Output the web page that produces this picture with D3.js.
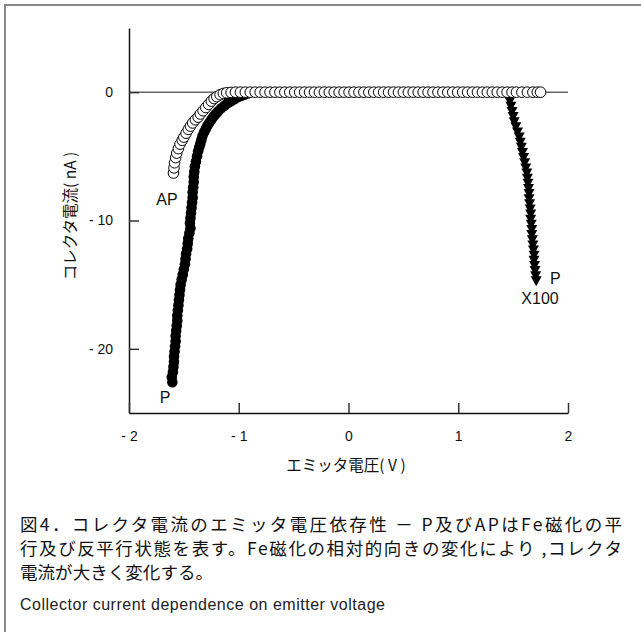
<!DOCTYPE html>
<html lang="ja">
<head>
<meta charset="UTF-8">
<title>コレクタ電流のエミッタ電圧依存性</title>
<script src="https://d3js.org/d3.v7.min.js"></script>
<style>
  body { margin: 0; background: white; }
  svg { display: block; }
  .tick text { font-family: "Liberation Sans", Arial, sans-serif; font-size: 14px; fill: #111; }
  .jp { font-family: "Noto Sans CJK JP", sans-serif; fill: #111; }
</style>
</head>
<body>
<svg id="chart" width="641" height="632"></svg>
<script>
  // AP (antiparallel) – open circles
  const apX = [-1.595, -1.59, -1.585, -1.575, -1.565, -1.55, -1.535, -1.515, -1.5, -1.48, -1.46, -1.44, -1.42, -1.395,
    -1.37, -1.35, -1.325, -1.3, -1.275, -1.25, -1.225, -1.2, -1.17, -1.14, -1.11,
    -1.07, -1.03, -0.985, -0.94, -0.895, -0.85, -0.805, -0.76, -0.715, -0.67, -0.625, -0.58, -0.535, -0.49,
    -0.445, -0.40, -0.355, -0.31, -0.265, -0.22, -0.175, -0.13, -0.085, -0.04, 0.005, 0.05, 0.095, 0.14,
    0.185, 0.23, 0.275, 0.32, 0.365, 0.41, 0.455, 0.50, 0.545, 0.59, 0.635, 0.68, 0.725, 0.77, 0.815,
    0.86, 0.905, 0.95, 0.995, 1.04, 1.085, 1.13, 1.175, 1.22, 1.265, 1.31, 1.355, 1.40, 1.445, 1.49,
    1.53, 1.58, 1.63, 1.68, 1.72, 1.75];
  const apY = [-6.3, -5.9, -5.5, -5.1, -4.75, -4.4, -4.05, -3.75, -3.5, -3.2, -2.9, -2.65, -2.4, -2.15,
    -1.95, -1.7, -1.45, -1.2, -0.95, -0.7, -0.5, -0.35, -0.2, -0.1, -0.05,
    -0.02, 0, 0, 0, 0, 0, 0, 0, 0, 0, 0, 0, 0, 0,
    0, 0, 0, 0, 0, 0, 0, 0, 0, 0, 0, 0, 0, 0,
    0, 0, 0, 0, 0, 0, 0, 0, 0, 0, 0, 0, 0, 0, 0,
    0, 0, 0, 0, 0, 0, 0, 0, 0, 0, 0, 0, 0, 0, 0,
    0, 0, 0, 0, 0, 0];

  // P (parallel) – filled circles
  const pX = [-1.605, -1.61, -1.6, -1.595, -1.59, -1.59, -1.585, -1.58, -1.575, -1.575, -1.57, -1.565, -1.56, -1.56,
    -1.555, -1.55, -1.545, -1.54, -1.535, -1.53, -1.52, -1.51, -1.5, -1.49, -1.485, -1.48, -1.47, -1.465,
    -1.46, -1.45, -1.44, -1.445, -1.44, -1.435, -1.43, -1.425, -1.42, -1.42, -1.415, -1.41, -1.41, -1.405,
    -1.4, -1.39, -1.38, -1.37, -1.36, -1.35, -1.34, -1.33, -1.315, -1.3, -1.285, -1.27, -1.25, -1.23,
    -1.21, -1.19, -1.16, -1.13, -1.1, -1.07, -1.04, -1.01, -0.98, -0.95, -0.92];
  const pY = [-22.6, -22.2, -21.8, -21.4, -21.0, -20.6, -20.2, -19.8, -19.4, -19.0, -18.6, -18.2, -17.8, -17.4,
    -17.0, -16.6, -16.2, -15.8, -15.4, -15.0, -14.6, -14.2, -13.8, -13.4, -13.0, -12.6, -12.2, -11.8,
    -11.4, -11.0, -10.6, -10.2, -9.8, -9.4, -9.0, -8.6, -8.2, -7.8, -7.4, -7.0, -6.6, -6.2,
    -5.8, -5.4, -5.0, -4.6, -4.3, -4.0, -3.7, -3.4, -3.1, -2.85, -2.6, -2.4, -2.15, -1.9,
    -1.7, -1.5, -1.25, -1.05, -0.85, -0.7, -0.55, -0.4, -0.3, -0.2, -0.1];

  // P x100 – filled down triangles
  const p100X = [1.465, 1.47, 1.48, 1.49, 1.5, 1.51, 1.525, 1.54, 1.555, 1.565, 1.575, 1.585, 1.595, 1.605,
    1.615, 1.625, 1.63, 1.635, 1.64, 1.645, 1.645, 1.65, 1.655, 1.66, 1.66, 1.665, 1.67, 1.67,
    1.675, 1.68, 1.685, 1.69, 1.69, 1.695, 1.7, 1.705, 1.71];
  const p100Y = [-0.3, -0.7, -1.1, -1.5, -1.9, -2.3, -2.7, -3.1, -3.5, -3.9, -4.3, -4.7, -5.1, -5.5,
    -5.9, -6.3, -6.7, -7.1, -7.5, -7.9, -8.3, -8.7, -9.1, -9.5, -9.9, -10.3, -10.7, -11.1,
    -11.5, -11.9, -12.3, -12.7, -13.1, -13.5, -13.9, -14.3, -14.7];

  const xTicks = [-2, -1, 0, 1, 2];
  const yTicks = [0, -10, -20];

  const captionLines = [
    "図4．コレクタ電流のエミッタ電圧依存性 － P及びAPはFe磁化の平",
    "行及び反平行状態を表す。Fe磁化の相対的向きの変化により ,コレクタ",
    "電流が大きく変化する。"
  ];
  const captionEn = "Collector current dependence on emitter voltage";

  const svg = d3.select("#chart");

  // outer frame (top and left edges visible)
  svg.append("rect")
    .attr("x", 5).attr("y", 5).attr("width", 700).attr("height", 700)
    .attr("fill", "white").attr("stroke", "#888").attr("stroke-width", 2);

  const x = d3.scaleLinear().domain([-2, 2]).range([129, 568]);
  const y = d3.scaleLinear().domain([-25, 5]).range([413, 28]);

  const fmt = d => d < 0 ? "- " + Math.abs(d) : String(d);

  // zero line
  svg.append("line")
    .attr("x1", x(-2)).attr("x2", x(2))
    .attr("y1", y(0)).attr("y2", y(0))
    .attr("stroke", "#666").attr("stroke-width", 1.5);

  const yAxis = svg.append("g")
    .attr("transform", `translate(${x(-2)},0)`)
    .call(d3.axisLeft(y).tickValues(yTicks).tickFormat(fmt).tickSizeInner(-10).tickSizeOuter(0).tickPadding(16));
  const xAxis = svg.append("g")
    .attr("transform", `translate(0,${y(-25)})`)
    .call(d3.axisBottom(x).tickValues(xTicks).tickFormat(fmt).tickSizeInner(-10).tickSizeOuter(0).tickPadding(18));
  [yAxis, xAxis].forEach(g => {
    g.select(".domain").attr("stroke", "#111").attr("stroke-width", 1.5);
    g.selectAll(".tick line").attr("stroke", "#333").attr("stroke-width", 1.5);
  });

  // P filled circles
  svg.append("g").selectAll("circle")
    .data(d3.zip(pX, pY))
    .join("circle")
    .attr("cx", d => x(d[0])).attr("cy", d => y(d[1]))
    .attr("r", 5.3).attr("fill", "#000");

  // P x100 triangles (pointing down)
  const tri = "M-5.5,-4.5L5.5,-4.5L0,5.5Z";
  svg.append("g").selectAll("path")
    .data(d3.zip(p100X, p100Y))
    .join("path")
    .attr("transform", d => `translate(${x(d[0])},${y(d[1])})`)
    .attr("d", tri).attr("fill", "#000");

  // AP open circles
  svg.append("g").selectAll("circle")
    .data(d3.zip(apX, apY))
    .join("circle")
    .attr("cx", d => x(d[0])).attr("cy", d => y(d[1]))
    .attr("r", 5.3).attr("fill", "white").attr("stroke", "#000").attr("stroke-width", 1);

  // series labels
  const lab = (t, lx, ly, anchor) => svg.append("text")
    .attr("x", lx).attr("y", ly).attr("text-anchor", anchor || "middle")
    .attr("font-family", "Liberation Sans, Arial, sans-serif").attr("font-size", 16)
    .attr("fill", "#111").text(t);
  lab("AP", 167, 205);
  lab("P", 165, 403);
  lab("P", 550, 284, "start");
  lab("X100", 540, 304);

  // axis titles
  svg.append("text").attr("class", "jp")
    .attr("transform", "translate(76,216) rotate(-90)")
    .attr("text-anchor", "middle").attr("font-size", 15.5)
    .text("コレクタ電流( nA )");
  svg.append("text").attr("class", "jp")
    .attr("x", 346).attr("y", 471)
    .attr("text-anchor", "middle").attr("font-size", 15.5)
    .text("エミッタ電圧( V )");

  // caption
  const capY = [531, 555, 579];
  const capW = [602, 602, 193];
  captionLines.forEach((t, i) => {
    svg.append("text").attr("class", "jp")
      .attr("x", 20).attr("y", capY[i])
      .attr("font-size", 17.5)
      .attr("textLength", capW[i]).attr("lengthAdjust", "spacing")
      .text(t);
  });
  svg.append("text")
    .attr("x", 20).attr("y", 610)
    .attr("font-family", "Liberation Sans, Arial, sans-serif").attr("font-size", 16)
    .attr("fill", "#222")
    .attr("textLength", 365).attr("lengthAdjust", "spacing")
    .text(captionEn);
</script>
</body>
</html>
